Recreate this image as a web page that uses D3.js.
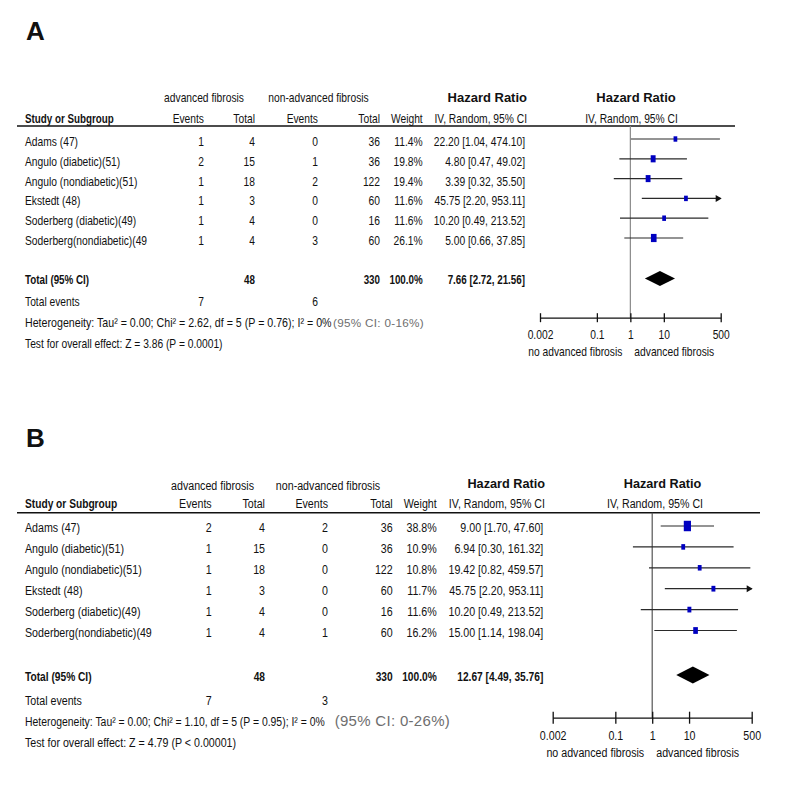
<!DOCTYPE html>
<html>
<head>
<meta charset="utf-8">
<script src="https://cdn.jsdelivr.net/npm/d3@7"></script>
<style>
  body { margin: 0; background: #fff; }
  svg text { font-family: "Liberation Sans", Arial, sans-serif; fill: #111; }
  .bold { font-weight: bold; }
  .gray { fill: #6e6e6e; }
</style>
</head>
<body>
<svg width="789" height="800"></svg>
<script>
// studies (same in both panels)
const studies = ["Adams (47)", "Angulo (diabetic)(51)", "Angulo (nondiabetic)(51)", "Ekstedt (48)", "Soderberg (diabetic)(49)", "Soderberg(nondiabetic)(49"]
const axisTicks = [0.002, 0.1, 1, 10, 500]

// panel A
const aAdvEvents = [1, 2, 1, 1, 1, 1]
const aAdvTotal = [4, 15, 18, 3, 4, 4]
const aNonEvents = [0, 1, 2, 0, 0, 3]
const aNonTotal = [36, 36, 122, 60, 16, 60]
const aWeight = [11.4, 19.8, 19.4, 11.6, 11.6, 26.1]
const aHR = [22.20, 4.80, 3.39, 45.75, 10.20, 5.00]
const aLow = [1.04, 0.47, 0.32, 2.20, 0.49, 0.66]
const aHigh = [474.10, 49.02, 35.50, 953.11, 213.52, 37.85]
const aPooled = [7.66, 2.72, 21.56]
const aTotals = [48, 330]
const aTotalEvents = [7, 6]
const aHet = ["Heterogeneity: Tau² = 0.00; Chi² = 2.62, df = 5 (P = 0.76); I² = 0%", "(95% CI: 0-16%)"]
const aTest = "Test for overall effect: Z = 3.86 (P = 0.0001)"

// panel B
const bAdvEvents = [2, 1, 1, 1, 1, 1]
const bAdvTotal = [4, 15, 18, 3, 4, 4]
const bNonEvents = [2, 0, 0, 0, 0, 1]
const bNonTotal = [36, 36, 122, 60, 16, 60]
const bWeight = [38.8, 10.9, 10.8, 11.7, 11.6, 16.2]
const bHR = [9.00, 6.94, 19.42, 45.75, 10.20, 15.00]
const bLow = [1.70, 0.30, 0.82, 2.20, 0.49, 1.14]
const bHigh = [47.60, 161.32, 459.57, 953.11, 213.52, 198.04]
const bPooled = [12.67, 4.49, 35.76]
const bTotals = [48, 330]
const bTotalEvents = [7, 3]
const bHet = ["Heterogeneity: Tau² = 0.00; Chi² = 1.10, df = 5 (P = 0.95); I² = 0%", "(95% CI: 0-26%)"]
const bTest = "Test for overall effect: Z = 4.79 (P < 0.00001)"

const svg = d3.select('svg')
const fmt = d => d.toFixed(2)

// no narrow font installed, so squeeze the regular one (set per panel)
let kReg = 0.8
let kBold = 0.76

function label(g, x, y, s, anchor = 'start', bold = false, k = null) {
  const sx = k || (bold ? kBold : kReg)
  return g.append('text')
    .attr('class', bold ? 'bold' : null)
    .attr('text-anchor', anchor)
    .attr('transform', `translate(${x},${y}) scale(${sx},1)`)
    .text(s)
}

function drawPanel(p) {
  kReg = p.k
  kBold = p.kb
  const g = svg.append('g').style('font-size', p.fs + 'px')

  g.append('text').attr('class', 'bold')
    .attr('x', 26).attr('y', p.labelY)
    .style('font-size', '26px')
    .text(p.label)

  // headers
  label(g, p.cols.advHead, p.h1Y, 'advanced fibrosis', 'middle')
  label(g, p.cols.nonHead, p.h1Y, 'non-advanced fibrosis', 'middle')
  label(g, p.cols.hrHead, p.h1Y - p.hrUp, 'Hazard Ratio', 'end', true, 1).style('font-size', p.hrFs + 'px')
  label(g, p.plotHead[0], p.h1Y - p.hrUp, 'Hazard Ratio', 'middle', true, 1).style('font-size', p.hrFs + 'px')

  label(g, 25, p.h2Y, 'Study or Subgroup', 'start', true)
  const h2 = [['Events', p.cols.ev1], ['Total', p.cols.tot1], ['Events', p.cols.ev2], ['Total', p.cols.tot2], ['Weight', p.cols.wt], ['IV, Random, 95% CI', p.cols.hrHead]]
  h2.forEach(h => label(g, h[1], p.h2Y, h[0], 'end'))
  label(g, p.plotHead[1], p.h2Y, 'IV, Random, 95% CI', 'middle')

  g.append('line')
    .attr('x1', 17).attr('x2', p.lineX2)
    .attr('y1', p.lineY).attr('y2', p.lineY)
    .attr('stroke', '#111').attr('stroke-width', 1.5)

  const rowY = i => p.rowY0 + i * p.step

  // table rows
  studies.forEach((s, i) => {
    const y = rowY(i)
    label(g, 25, y, s)
    const cells = [[p.advEvents[i], p.cols.ev1], [p.advTotal[i], p.cols.tot1], [p.nonEvents[i], p.cols.ev2],
      [p.nonTotal[i], p.cols.tot2], [p.weight[i].toFixed(1) + '%', p.cols.wt],
      [`${fmt(p.hr[i])} [${fmt(p.low[i])}, ${fmt(p.high[i])}]`, p.cols.hr]]
    cells.forEach(c => label(g, c[1], y, c[0], 'end'))
  })

  // totals
  label(g, 25, p.totalY, 'Total (95% CI)', 'start', true)
  const tcells = [[p.totals[0], p.cols.tot1], [p.totals[1], p.cols.tot2], ['100.0%', p.cols.wt],
    [`${fmt(p.pooled[0])} [${fmt(p.pooled[1])}, ${fmt(p.pooled[2])}]`, p.cols.hr]]
  tcells.forEach(c => label(g, c[1], p.totalY, c[0], 'end', true))

  label(g, 25, p.evY, 'Total events')
  label(g, p.cols.ev1, p.evY, p.totalEvents[0], 'end')
  label(g, p.cols.ev2, p.evY, p.totalEvents[1], 'end')

  const het = label(g, 25, p.hetY, p.het[0], 'start', false, p.hetK)
  const hetW = het.node().getComputedTextLength() * p.hetK
  g.append('text').attr('class', 'gray')
    .attr('x', 25 + hetW + p.hetGap).attr('y', p.hetY)
    .style('font-size', p.grayFs + 'px').style('letter-spacing', '0.3px')
    .text(p.het[1])

  label(g, 25, p.testY, p.test)

  // forest plot
  const x = d3.scaleLog().domain([axisTicks[0], axisTicks[axisTicks.length - 1]]).range(p.xRange)

  g.append('line')
    .attr('x1', x(1)).attr('x2', x(1))
    .attr('y1', p.lineY).attr('y2', p.axisY)
    .attr('stroke', p.vColor).attr('stroke-width', 1.2)

  studies.forEach((s, i) => {
    const y = rowY(i) - p.markUp
    const lo = Math.max(p.low[i], x.domain()[0])
    const hi = Math.min(p.high[i], x.domain()[1])
    g.append('line')
      .attr('x1', x(lo)).attr('x2', x(hi))
      .attr('y1', y).attr('y2', y)
      .attr('stroke', '#2a2a2a').attr('stroke-width', 1.2)
    if (p.high[i] > x.domain()[1]) {
      const xe = x(hi)
      g.append('path')
        .attr('d', `M${xe + 1},${y} L${xe - 5},${y - 3.5} L${xe - 5},${y + 3.5} Z`)
        .attr('fill', '#111')
    }
    const w = 1.1 * Math.sqrt(p.weight[i]) * p.sq
    const h = 1.6 * Math.sqrt(p.weight[i]) * p.sq
    g.append('rect')
      .attr('x', x(p.hr[i]) - w / 2).attr('y', y - h / 2)
      .attr('width', w).attr('height', h)
      .attr('fill', '#0000c0')
  })

  const dy = p.totalY - p.diaUp
  const dh = p.diaH / 2
  g.append('path')
    .attr('d', `M${x(p.pooled[1])},${dy} L${x(p.pooled[0])},${dy - dh} L${x(p.pooled[2])},${dy} L${x(p.pooled[0])},${dy + dh} Z`)
    .attr('fill', '#000')

  const axis = g.append('g')
    .attr('transform', `translate(0, ${p.axisY})`)
    .call(d3.axisBottom(x).tickValues(axisTicks).tickFormat(d => String(d)).tickSizeOuter(0).tickPadding(p.tickPad))
  axis.select('.domain').attr('stroke', '#111').attr('stroke-width', 1.3)
  axis.selectAll('.tick line').attr('y1', -p.tickLen).attr('y2', p.tickLen).attr('stroke', '#111').attr('stroke-width', 1.3)
  axis.selectAll('.tick text')
    .style('font-size', p.fs + 'px')
    .style('font-family', '"Liberation Sans", Arial, sans-serif')
    .attr('fill', '#111')
    .attr('transform', `scale(${kReg},1)`)

  label(g, x(1) - 8, p.dirY, 'no advanced fibrosis', 'end')
  label(g, x(1) + 4, p.dirY, 'advanced fibrosis')
}

drawPanel({
  label: 'A', labelY: 40, fs: 13, k: 0.79, kb: 0.755, grayFs: 11.7, hrFs: 13, hetK: 0.82, hetGap: 1.5,
  h1Y: 102, h2Y: 123, hrUp: 0, lineY: 126, lineX2: 735,
  rowY0: 146, step: 19.8, totalY: 283.5, evY: 306, hetY: 327, testY: 348,
  cols: { ev1: 204, tot1: 255, ev2: 318, tot2: 380, wt: 422.7, hr: 525, hrHead: 527, advHead: 204, nonHead: 318.5 },
  plotHead: [636, 631.5],
  xRange: [540, 720.7], vColor: '#8a8a8a', axisY: 317.7, tickLen: 4.5, tickPad: 6, dirY: 355.5,
  markUp: 7, sq: 1, diaUp: 5, diaH: 15,
  advEvents: aAdvEvents, advTotal: aAdvTotal, nonEvents: aNonEvents, nonTotal: aNonTotal,
  weight: aWeight, hr: aHR, low: aLow, high: aHigh, pooled: aPooled, totals: aTotals,
  totalEvents: aTotalEvents, het: aHet, test: aTest
})

drawPanel({
  label: 'B', labelY: 447, fs: 13.5, k: 0.79, kb: 0.755, grayFs: 15, hrFs: 12.7, hetK: 0.772, hetGap: 10,
  h1Y: 490, h2Y: 507.5, hrUp: 2, lineY: 512.7, lineX2: 760,
  rowY0: 532, step: 20.9, totalY: 681, evY: 705, hetY: 726, testY: 746.5,
  cols: { ev1: 211.7, tot1: 265, ev2: 328, tot2: 392.7, wt: 436.7, hr: 543.3, hrHead: 545, advHead: 212.5, nonHead: 328 },
  plotHead: [662.5, 655],
  xRange: [552.7, 751.7], vColor: '#555', axisY: 717.7, tickLen: 6, tickPad: 7, dirY: 757,
  markUp: 6, sq: 1.05, diaUp: 6, diaH: 17,
  advEvents: bAdvEvents, advTotal: bAdvTotal, nonEvents: bNonEvents, nonTotal: bNonTotal,
  weight: bWeight, hr: bHR, low: bLow, high: bHigh, pooled: bPooled, totals: bTotals,
  totalEvents: bTotalEvents, het: bHet, test: bTest
})
</script>
</body>
</html>
